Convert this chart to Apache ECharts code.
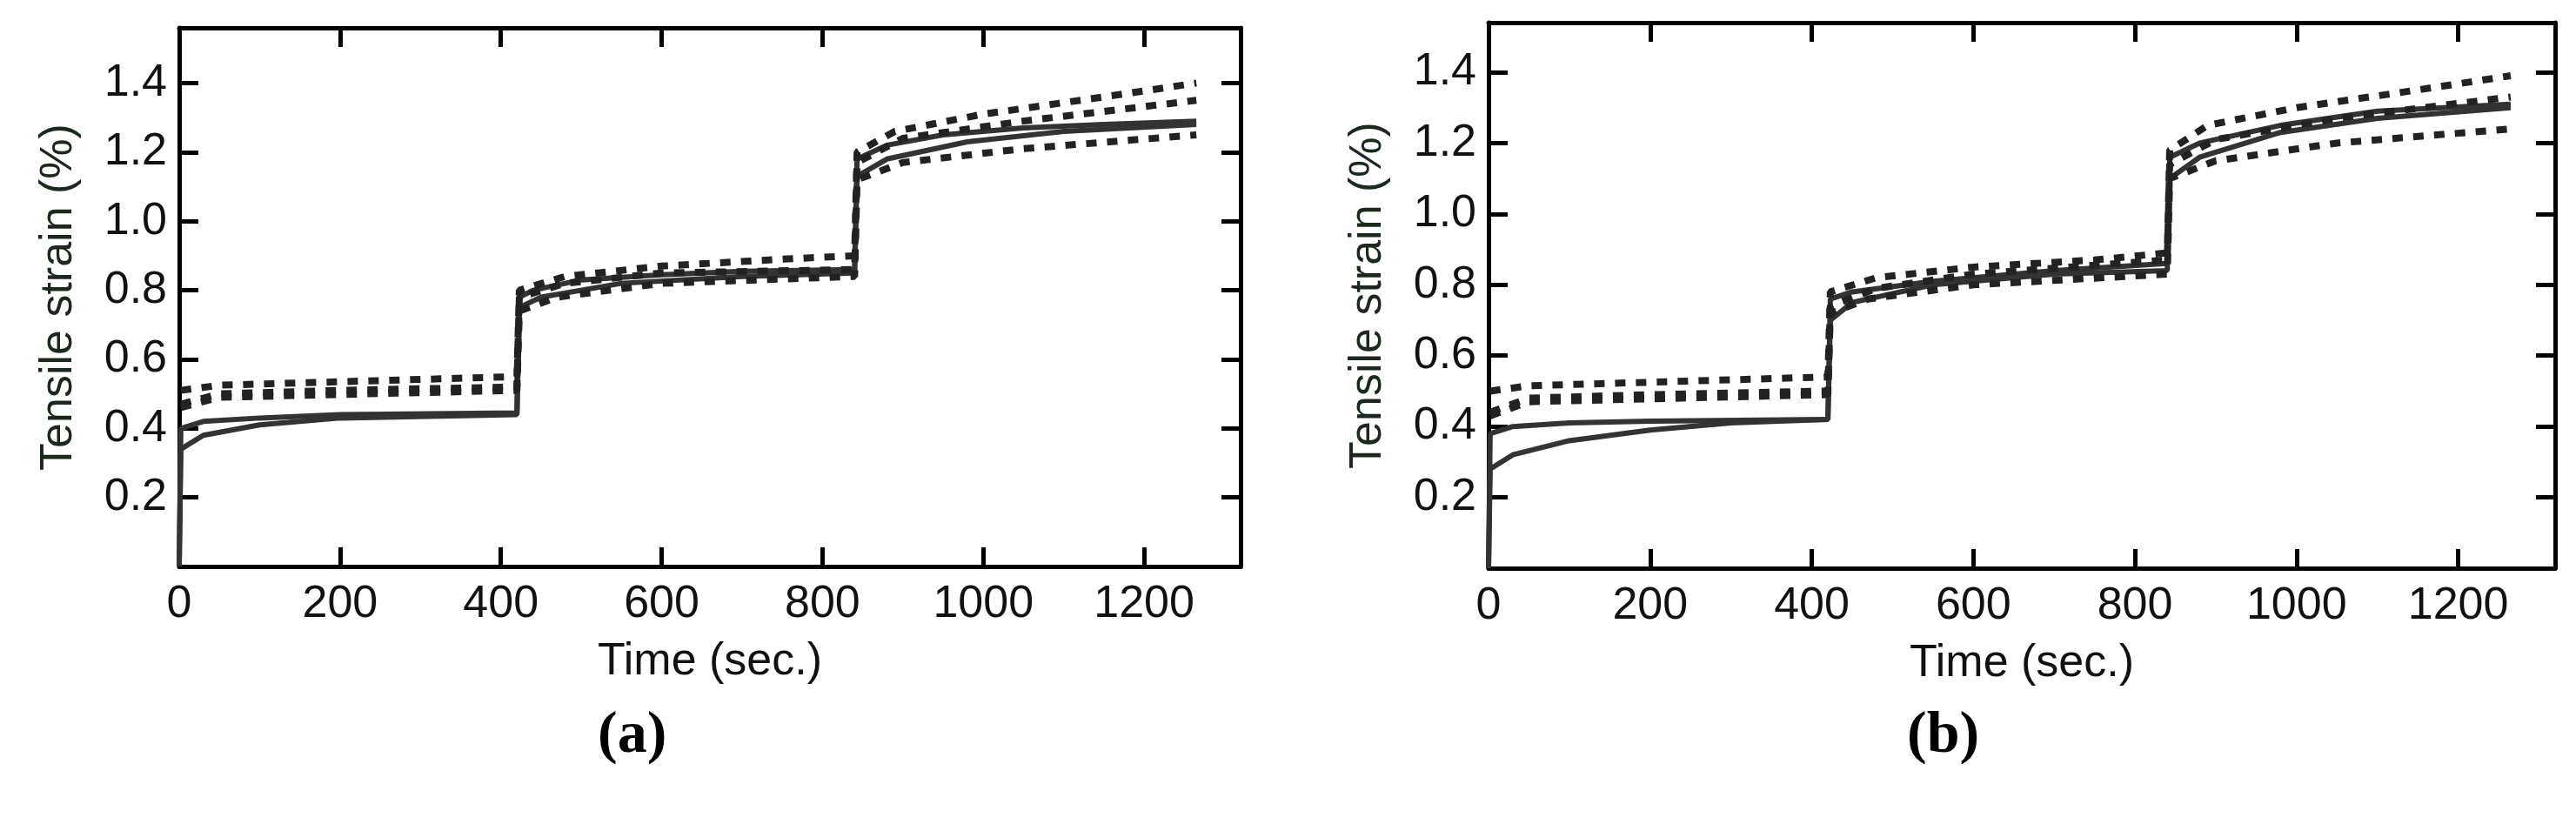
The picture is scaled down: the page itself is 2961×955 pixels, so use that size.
<!DOCTYPE html>
<html>
<head>
<meta charset="utf-8">
<script src="https://cdn.jsdelivr.net/npm/echarts@6/dist/echarts.min.js"></script>
<style>html,body{margin:0;background:#fff}#c{width:2961px;height:955px}</style>
</head>
<body>
<div id="c"></div>
<script>
// panel (a)
const aSolid1 = [[0,0],[2,0.40],[30,0.42],[100,0.43],[200,0.44],[420,0.445],[423,0.78],[440,0.80],[500,0.83],[600,0.845],[700,0.855],[840,0.86],[843,1.18],[880,1.22],[950,1.25],[1050,1.27],[1150,1.28],[1265,1.29]];
const aSolid2 = [[0,0],[2,0.34],[30,0.38],[100,0.41],[200,0.43],[420,0.44],[423,0.75],[450,0.78],[550,0.82],[700,0.84],[840,0.85],[843,1.13],[880,1.18],[980,1.23],[1100,1.26],[1265,1.28]];
const aDash1 = [[2,0.51],[50,0.525],[200,0.535],[420,0.55],[423,0.80],[480,0.84],[600,0.87],[750,0.89],[840,0.90],[843,1.20],[890,1.26],[1000,1.31],[1150,1.36],[1265,1.40]];
const aDash2 = [[2,0.47],[50,0.50],[200,0.51],[420,0.52],[423,0.78],[480,0.82],[600,0.85],[840,0.86],[843,1.17],[900,1.24],[1050,1.29],[1265,1.35]];
const aDash3 = [[2,0.46],[50,0.49],[420,0.51],[423,0.74],[470,0.78],[600,0.82],[840,0.84],[843,1.12],[900,1.17],[1050,1.21],[1265,1.25]];
// panel (b)
const bSolid1 = [[0,0],[2,0.38],[30,0.40],[100,0.41],[200,0.415],[420,0.42],[423,0.76],[450,0.78],[550,0.81],[700,0.84],[840,0.86],[843,1.16],[880,1.20],[980,1.25],[1100,1.29],[1265,1.31]];
const bSolid2 = [[0,0],[2,0.28],[30,0.32],[100,0.36],[200,0.39],[300,0.41],[420,0.42],[423,0.70],[450,0.75],[550,0.80],[700,0.83],[840,0.84],[843,1.10],[880,1.16],[980,1.23],[1100,1.27],[1265,1.30]];
const bDash1 = [[2,0.50],[50,0.515],[200,0.525],[420,0.54],[423,0.78],[480,0.82],[600,0.85],[750,0.87],[840,0.89],[843,1.18],[890,1.25],[1000,1.30],[1150,1.35],[1265,1.39]];
const bDash2 = [[2,0.44],[50,0.48],[200,0.49],[420,0.50],[423,0.74],[480,0.79],[600,0.83],[840,0.87],[843,1.14],[900,1.21],[1050,1.27],[1265,1.33]];
const bDash3 = [[2,0.43],[50,0.47],[420,0.49],[423,0.72],[470,0.76],[600,0.80],[840,0.83],[843,1.10],[900,1.15],[1050,1.20],[1265,1.24]];
const yTicks = [0.2, 0.4, 0.6, 0.8, 1.0, 1.2, 1.4];

const panels = [
  {grid: {left: 206, top: 32, width: 1220, height: 619}, ymax: 1.56, lines: [aSolid1, aSolid2, aDash1, aDash2, aDash3], tag: '(a)', tagX: 727},
  {grid: {left: 1711, top: 26, width: 1226, height: 627}, ymax: 1.54, lines: [bSolid1, bSolid2, bDash1, bDash2, bDash3], tag: '(b)', tagX: 2232}
];
const font = 'Liberation Sans';
const grids = [], xAxes = [], yAxes = [], series = [], graphics = [];
panels.forEach((p, i) => {
  grids.push(p.grid);
  const line = {show: true, onZero: false, lineStyle: {color: '#000', width: 5}};
  const tick = {show: true, inside: true, length: 22, lineStyle: {color: '#000', width: 5}};
  xAxes.push({gridIndex: i, type: 'value', min: 0, max: 1320, interval: 200,
    axisLine: line, axisTick: tick, splitLine: {show: false},
    axisLabel: {fontFamily: font, fontSize: 52, color: '#111', margin: 18, formatter: v => String(v)},
    name: 'Time (sec.)', nameLocation: 'middle', nameGap: 84,
    nameTextStyle: {fontFamily: font, fontSize: 52, color: '#111'}});
  xAxes.push({gridIndex: i, type: 'value', position: 'top', min: 0, max: 1320, interval: 200,
    axisLine: line, axisTick: tick, axisLabel: {show: false}, splitLine: {show: false}});
  yAxes.push({gridIndex: i, type: 'value', min: 0, max: p.ymax, interval: 0.2,
    axisLine: line, axisTick: tick, splitLine: {show: false},
    axisLabel: {fontFamily: font, fontSize: 52, color: '#111', margin: 14,
      formatter: v => yTicks.some(t => Math.abs(t - v) < 1e-6) ? v.toFixed(1) : ''},
    name: 'Tensile strain (%)', nameLocation: 'middle', nameGap: 112,
    nameTextStyle: {fontFamily: font, fontSize: 52, color: '#1a2a1a'}});
  yAxes.push({gridIndex: i, type: 'value', position: 'right', min: 0, max: p.ymax, interval: 0.2,
    axisLine: line, axisTick: tick, axisLabel: {show: false}, splitLine: {show: false}});
  p.lines.forEach((d, k) => {
    const dashed = k >= 2;
    series.push({type: 'line', xAxisIndex: i * 2, yAxisIndex: i * 2, data: d, symbol: 'none',
      smooth: false, silent: true,
      lineStyle: dashed ? {color: '#222', width: 8, type: [12, 12]} : {color: '#333', width: 6}});
  });
  graphics.push({type: 'text', left: p.tagX - 40, top: 812,
    style: {text: p.tag, fontFamily: 'Liberation Serif', fontSize: 68, fontWeight: 'bold', fill: '#000'}});
});

const chart = echarts.init(document.getElementById('c'));
chart.setOption({
  animation: false,
  grid: grids, xAxis: xAxes, yAxis: yAxes, series: series, graphic: graphics
});
</script>
</body>
</html>
